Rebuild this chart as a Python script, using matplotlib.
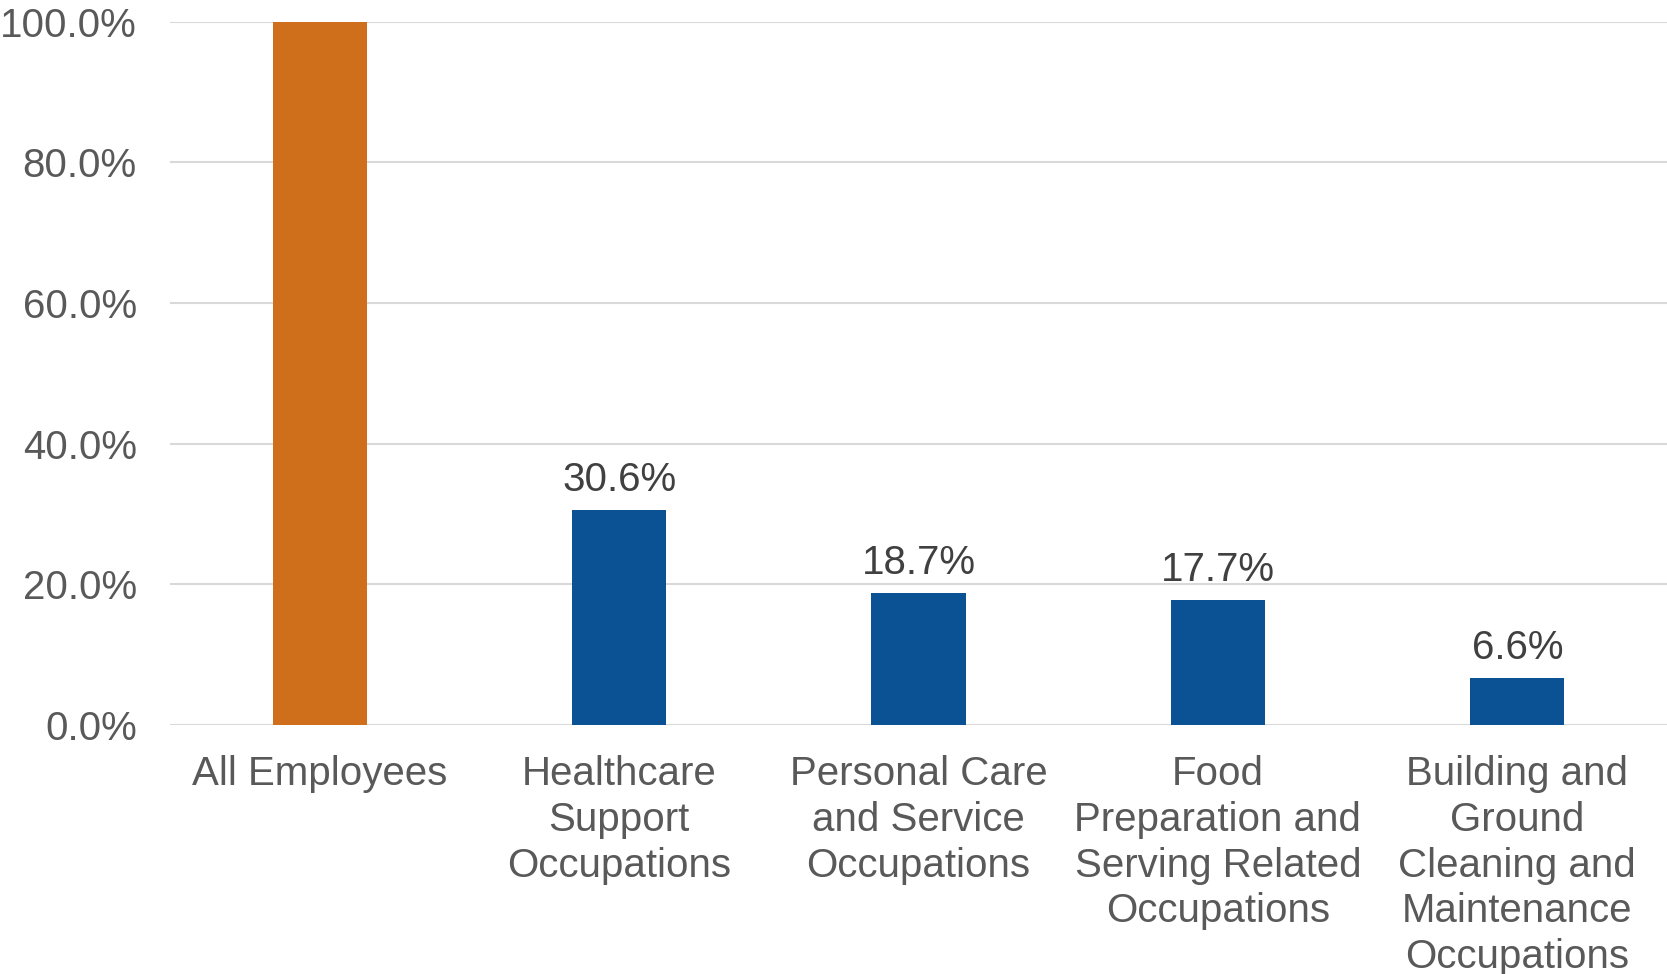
import matplotlib
matplotlib.use("Agg")
import matplotlib.pyplot as plt

# Share of employees by occupation group
categories = [
    "All Employees",
    "Healthcare\nSupport\nOccupations",
    "Personal Care\nand Service\nOccupations",
    "Food\nPreparation and\nServing Related\nOccupations",
    "Building and\nGround\nCleaning and\nMaintenance\nOccupations",
]
values = [100.0, 30.6, 18.7, 17.7, 6.6]
show_label = [False, True, True, True, True]
bar_colors = ["#CF6E1B", "#0B5295", "#0B5295", "#0B5295", "#0B5295"]
yticks = [0, 20, 40, 60, 80, 100]

plt.rcParams["font.family"] = ["Liberation Sans", "DejaVu Sans"]

fig = plt.figure(figsize=(16.67, 9.74), dpi=100)
ax = fig.add_axes([0.102, 0.256, 0.898, 0.7215])

x = list(range(len(categories)))
ax.bar(x, values, width=0.315, color=bar_colors, zorder=3)

# etiquetas de datos
for xi, v, show in zip(x, values, show_label):
    if show:
        ax.annotate(f"{v:.1f}%", (xi, v), xytext=(0, 8), textcoords="offset points",
                    ha="center", va="bottom", fontsize=29, color="#404040")

ax.set_xlim(-0.5, 4.5)
ax.set_ylim(0, 100)
ax.set_yticks(yticks)
ax.set_yticklabels([f"{t:.1f}%" for t in yticks])
ax.set_xticks(x)
ax.set_xticklabels(categories, linespacing=1.255)

ax.tick_params(axis="y", length=0, pad=24, labelsize=29, labelcolor="#595959")
ax.tick_params(axis="x", length=0, pad=22, labelsize=29, labelcolor="#595959")

ax.grid(axis="y", color="#D9D9D9", linewidth=1.5, zorder=0)
for s in ax.spines.values():
    s.set_visible(False)

fig.savefig("out.png", dpi=100)
